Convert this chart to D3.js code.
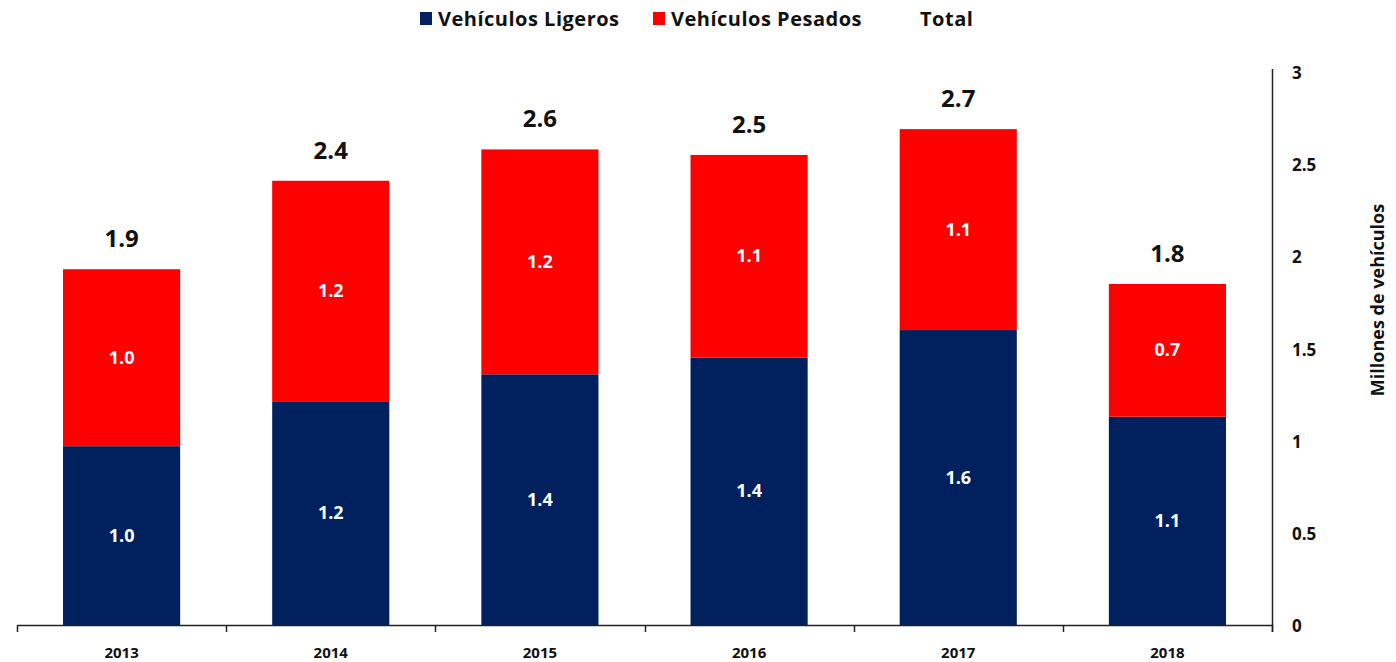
<html>
<head>
<script src="https://cdn.jsdelivr.net/npm/d3@7"></script>
<style>
body { margin: 0; background: #fff; font-family: "Open Sans", "Noto Sans", sans-serif; }
svg text { font-weight: bold; }
</style>
</head>
<body>
<svg id="chart" width="1396" height="662"></svg>
<script>
// data
var years = ['2013', '2014', '2015', '2016', '2017', '2018'];
var ligeros = [0.97, 1.21, 1.36, 1.45, 1.60, 1.13];
var pesados = [0.96, 1.20, 1.22, 1.10, 1.09, 0.72];
var totals = [1.9, 2.4, 2.6, 2.5, 2.7, 1.8];
var yTicks = [0, 0.5, 1, 1.5, 2, 2.5, 3];

var blue = '#00215d', red = '#ff0000';
var svg = d3.select('#chart');

var x = d3.scaleBand().domain(years).range([17, 1272]).paddingInner(0.44).paddingOuter(0.22);
var xb = d3.scaleBand().domain(years).range([17, 1272]);
var y = d3.scaleLinear().domain([0, 3]).range([625, 72]);

var rows = years.map(function(yr, i) {
    return {year: yr, lig: ligeros[i], pes: pesados[i], tot: totals[i]};
});

// bars
var g = svg.append('g');
g.selectAll('rect.lig').data(rows).enter().append('rect')
    .attr('x', function(d) { return x(d.year); })
    .attr('width', x.bandwidth())
    .attr('y', function(d) { return y(d.lig); })
    .attr('height', function(d) { return y(0) - y(d.lig); })
    .attr('fill', blue);
g.selectAll('rect.pes').data(rows).enter().append('rect')
    .attr('x', function(d) { return x(d.year); })
    .attr('width', x.bandwidth())
    .attr('y', function(d) { return y(d.lig + d.pes); })
    .attr('height', function(d) { return y(d.lig) - y(d.lig + d.pes); })
    .attr('fill', red);

// value labels
g.selectAll('text.lig').data(rows).enter().append('text')
    .attr('x', function(d) { return x(d.year) + x.bandwidth() / 2; })
    .attr('y', function(d) { return y(d.lig / 2) + 6; })
    .attr('text-anchor', 'middle').attr('fill', '#fff').style('font-size', '18px')
    .text(function(d) { return d.lig.toFixed(1); });
g.selectAll('text.pes').data(rows).enter().append('text')
    .attr('x', function(d) { return x(d.year) + x.bandwidth() / 2; })
    .attr('y', function(d) { return y(d.lig + d.pes / 2) + 6; })
    .attr('text-anchor', 'middle').attr('fill', '#fff').style('font-size', '18px')
    .text(function(d) { return d.pes.toFixed(1); });
g.selectAll('text.tot').data(rows).enter().append('text')
    .attr('x', function(d) { return x(d.year) + x.bandwidth() / 2; })
    .attr('y', function(d) { return y(d.lig + d.pes) - 22; })
    .attr('text-anchor', 'middle').attr('fill', '#111').style('font-size', '24px')
    .text(function(d) { return d.tot.toFixed(1); });

// x axis
svg.append('line').attr('x1', 17).attr('x2', 1272).attr('y1', 625.5).attr('y2', 625.5)
    .attr('stroke', '#222').attr('stroke-width', 1.5);
svg.selectAll('line.xt').data(years.concat(['end'])).enter().append('line')
    .attr('x1', function(d, i) { return Math.round(17 + i * xb.bandwidth()) + 0.5; })
    .attr('x2', function(d, i) { return Math.round(17 + i * xb.bandwidth()) + 0.5; })
    .attr('y1', 625).attr('y2', 632).attr('stroke', '#222').attr('stroke-width', 1.5);
svg.selectAll('text.xl').data(years).enter().append('text')
    .attr('x', function(d) { return xb(d) + xb.bandwidth() / 2; })
    .attr('y', 658).attr('text-anchor', 'middle').attr('fill', '#111').style('font-size', '15px')
    .text(function(d) { return d; });

// y axis on the right
svg.append('line').attr('x1', 1272.5).attr('x2', 1272.5).attr('y1', 69).attr('y2', 632)
    .attr('stroke', '#222').attr('stroke-width', 1.5);
svg.selectAll('text.yl').data(yTicks).enter().append('text')
    .attr('x', 1292).attr('y', function(d) { return y(d) + 7; })
    .attr('fill', '#111').style('font-size', '17px')
    .text(function(d) { return d; });
svg.append('text')
    .attr('transform', 'translate(1384,300) rotate(-90)')
    .attr('text-anchor', 'middle').attr('fill', '#111').style('font-size', '18px')
    .text('Millones de vehículos');

// legend
var legend = [
    {name: 'Vehículos Ligeros', color: blue, x: 420},
    {name: 'Vehículos Pesados', color: red, x: 653},
    {name: 'Total', color: null, x: 902}
];
var lg = svg.selectAll('g.legend').data(legend).enter().append('g')
    .attr('transform', function(d) { return 'translate(' + d.x + ',0)'; });
lg.filter(function(d) { return d.color; }).append('rect')
    .attr('x', 0).attr('y', 12).attr('width', 12).attr('height', 13)
    .attr('fill', function(d) { return d.color; });
lg.append('text').attr('x', 18).attr('y', 26).attr('fill', '#111')
    .style('font-size', '20px').style('letter-spacing', '0.5px')
    .text(function(d) { return d.name; });
</script>
</body>
</html>
